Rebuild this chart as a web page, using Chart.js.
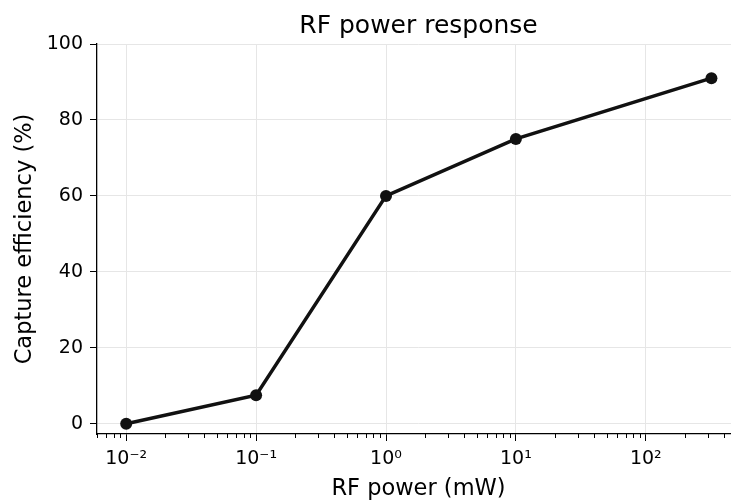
<!DOCTYPE html>
<html>
<head>
<meta charset="utf-8">
<script src="https://cdn.jsdelivr.net/npm/chart.js@4/dist/chart.umd.min.js"></script>
<style>
  html, body { margin: 0; padding: 0; background: #ffffff; overflow: hidden; }
  #wrap { width: 750px; height: 500px; }
</style>
</head>
<body>
<div id="wrap"><canvas id="c" width="750" height="500"></canvas></div>
<script>
// ---- data ----
const rfPower = [0.01, 0.1, 1, 10, 320];          // mW
const captureEfficiency = [0, 7.5, 60, 75, 91];   // %
const xMajorTicks = [0.01, 0.1, 1, 10, 100];
const xTickLabels = ['10\u207B\u00B2', '10\u207B\u00B9', '10\u2070', '10\u00B9', '10\u00B2'];
const yTicks = [0, 20, 40, 60, 80, 100];
const xRange = [0.00596, 531];
const yRange = [-2.7, 100];

const FONT = "'DejaVu Sans', sans-serif";
const GRID = '#e6e6e6';
const INK = '#111111';

const points = rfPower.map((x, i) => ({ x: x, y: captureEfficiency[i] }));

const minorTicks = {
  id: 'minorTicks',
  afterDraw(chart) {
    const sx = chart.scales.x;
    const ctx = chart.ctx;
    const bottom = chart.chartArea.bottom;
    ctx.save();
    ctx.strokeStyle = '#000';
    ctx.lineWidth = 1;
    for (let e = -3; e <= 3; e++) {
      for (let m = 2; m <= 9; m++) {
        const v = m * Math.pow(10, e);
        if (v < sx.min || v > sx.max) continue;
        const px = Math.round(sx.getPixelForValue(v)) + 0.5;
        ctx.beginPath();
        ctx.moveTo(px, bottom);
        ctx.lineTo(px, bottom + 4);
        ctx.stroke();
      }
    }
    ctx.restore();
  }
};

new Chart(document.getElementById('c'), {
  type: 'line',
  data: {
    datasets: [{
      data: points,
      borderColor: INK,
      backgroundColor: INK,
      borderWidth: 3.5,
      pointRadius: 6,
      pointHoverRadius: 6,
      pointBackgroundColor: INK,
      pointBorderColor: INK,
      pointBorderWidth: 0,
      tension: 0,
      fill: false
    }]
  },
  options: {
    responsive: false,
    devicePixelRatio: 1,
    animation: false,
    layout: { padding: { left: 0, right: 10, top: 0, bottom: 0 } },
    plugins: {
      legend: { display: false },
      tooltip: { enabled: false },
      title: {
        display: true,
        fullSize: false,
        text: 'RF power response',
        color: '#000',
        font: { family: FONT, size: 25, weight: 'normal' },
        padding: { top: 11, bottom: 3 }
      }
    },
    scales: {
      x: {
        type: 'logarithmic',
        min: xRange[0],
        max: xRange[1],
        afterBuildTicks(scale) {
          scale.ticks = xMajorTicks.map(v => ({ value: v, major: true }));
        },
        afterFit(scale) { scale.height = 66; },
        ticks: {
          autoSkip: false,
          maxRotation: 0,
          color: '#000',
          padding: 7,
          font: { family: FONT, size: 19 },
          callback(value) {
            const i = xMajorTicks.findIndex(t => Math.abs(Math.log10(t) - Math.log10(value)) < 1e-6);
            return i >= 0 ? xTickLabels[i] : '';
          }
        },
        grid: { color: GRID, lineWidth: 1, tickColor: '#000', tickLength: 7, drawTicks: true },
        border: { display: true, color: '#000', width: 1.3 },
        title: {
          display: true,
          text: 'RF power (mW)',
          color: '#000',
          font: { family: FONT, size: 22.5 },
          padding: { top: 0, bottom: -3 }
        }
      },
      y: {
        type: 'linear',
        min: yRange[0],
        max: yRange[1],
        afterBuildTicks(scale) {
          scale.ticks = yTicks.map(v => ({ value: v }));
        },
        afterFit(scale) { scale.width = 97; },
        ticks: {
          color: '#000',
          padding: 7,
          font: { family: FONT, size: 19 },
          callback(value) { return String(value); }
        },
        grid: { color: GRID, lineWidth: 1, tickColor: '#000', tickLength: 7, drawTicks: true },
        border: { display: true, color: '#000', width: 1.3 },
        title: {
          display: true,
          text: 'Capture efficiency (%)',
          color: '#000',
          font: { family: FONT, size: 22.5 },
          padding: { top: 12, bottom: 0 }
        }
      }
    }
  },
  plugins: [minorTicks]
});
</script>
</body>
</html>
